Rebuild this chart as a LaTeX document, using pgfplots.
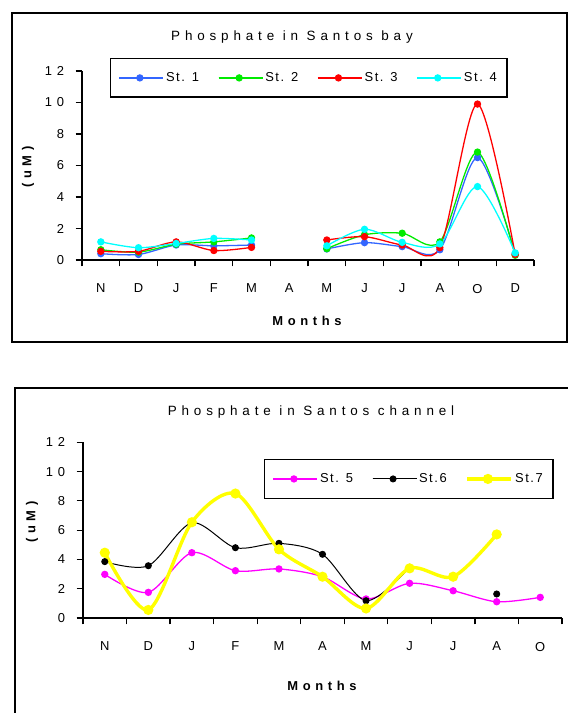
\documentclass[border=0pt]{standalone}
\usepackage{pgfplots}
\pgfplotsset{compat=1.18}
\usepackage{fontspec}
\setmainfont{Liberation Sans}
\newfontfamily\wide[LetterSpace=36]{Liberation Sans}
\newfontfamily\legfont[LetterSpace=12]{Liberation Sans}

\definecolor{st1}{RGB}{51,102,255}
\definecolor{st2}{RGB}{0,235,0}
\definecolor{st3}{RGB}{255,0,0}
\definecolor{st4}{RGB}{0,255,255}
\definecolor{st5}{RGB}{255,0,255}
\definecolor{st6}{RGB}{0,0,0}
\definecolor{st7}{RGB}{255,255,0}

\pgfplotsset{
  phos/.style={
    scale only axis,
    axis lines=left,
    axis line style={-, line width=1.2pt},
    every tick/.style={black, line width=1.2pt},
    tick align=outside,
    major tick length=6.5bp,
    ymin=0, ymax=12, ytick={0,2,...,12},
    xmin=0,
    x tick label as interval,
    unbounded coords=jump,
    /pgf/number format/assume math mode=true,
    tick label style={font=\fontsize{13}{13}\selectfont\wide},
    yticklabel style={xshift=-8bp},
    xticklabel style={yshift=-14bp},
    legend image code/.code={%
      \path (0bp,0bp) -- (44bp,0bp);
      \draw[mark repeat=2,mark phase=2,##1] plot coordinates {(0bp,0bp) (20.5bp,0bp) (41bp,0bp)};},
    legend cell align=left,
    legend style={draw=black, line width=1.4pt, inner xsep=8bp, inner ysep=12bp,
      font=\fontsize{13}{13}\selectfont\legfont,
      /tikz/every even column/.append style={column sep=17bp}},
  },
  st/.style={smooth, tension=0.5, mark=*, mark size=3bp, line width=1.3pt, color=#1, mark options={solid}},
}

\begin{document}
\begin{tikzpicture}[x=1bp,y=1bp]
\useasboundingbox (0,0) rectangle (568,713);

% ---------- Santos bay ----------
\draw[line width=2pt] (12,700) rectangle (567,371);
\node[font=\fontsize{13.5}{13.5}\selectfont\wide] at (292,676) {Phosphate in Santos bay};
\node[font=\fontsize{13}{13}\selectfont\wide\bfseries] at (307,392) {Months};
\node[font=\fontsize{13}{13}\selectfont\wide\bfseries, rotate=90] at (28,546) {(uM)};

\begin{axis}[phos,
  at={(82bp,453bp)}, anchor=south west,
  width=452bp, height=189bp,
  xmax=12, xtick={0,...,12},
  xticklabels={N,D,J,F,M,A,M,J,J,A,O,D},
  legend columns=4,
  legend style={at={(axis description cs:0.062,1.069)}, anchor=north west},
]
\addplot[st=st1] coordinates {(0.5,0.4) (1.5,0.35) (2.5,0.95) (3.5,0.9) (4.5,0.95) (5.5,nan)
  (6.5,0.7) (7.5,1.1) (8.5,0.85) (9.5,0.65) (10.5,6.5) (11.5,0.4)};
\addlegendentry{St. 1}
\addplot[st=st2] coordinates {(0.5,0.65) (1.5,0.5) (2.5,1.0) (3.5,1.15) (4.5,1.4) (5.5,nan)
  (6.5,0.72) (7.5,1.6) (8.5,1.7) (9.5,1.15) (10.5,6.85) (11.5,0.3)};
\addlegendentry{St. 2}
\addplot[st=st3] coordinates {(0.5,0.55) (1.5,0.55) (2.5,1.15) (3.5,0.6) (4.5,0.8) (5.5,nan)
  (6.5,1.27) (7.5,1.48) (8.5,0.95) (9.5,0.78) (10.5,9.9) (11.5,0.35)};
\addlegendentry{St. 3}
\addplot[st=st4] coordinates {(0.5,1.15) (1.5,0.78) (2.5,1.05) (3.5,1.37) (4.5,1.27) (5.5,nan)
  (6.5,0.9) (7.5,1.95) (8.5,1.12) (9.5,1.02) (10.5,4.66) (11.5,0.45)};
\addlegendentry{St. 4}
\end{axis}

% ---------- Santos channel ----------
\draw[line width=2pt] (15,325) rectangle (590,-20);
\node[font=\fontsize{13.5}{13.5}\selectfont\wide] at (311,301) {Phosphate in Santos channel};
\node[font=\fontsize{13}{13}\selectfont\wide\bfseries] at (322,27) {Months};
\node[font=\fontsize{13}{13}\selectfont\wide\bfseries, rotate=90] at (32,191) {(uM)};

\begin{axis}[phos,
  at={(83bp,95bp)}, anchor=south west,
  width=479bp, height=175.7bp,
  xmax=11, xtick={0,...,11},
  xticklabels={N,D,J,F,M,A,M,J,J,A,O},
  legend columns=3,
  legend style={at={(axis description cs:0.378,0.905)}, anchor=north west},
]
\addplot[st=st5, line width=1.3pt] coordinates {(0.5,2.98) (1.5,1.75) (2.5,4.46) (3.5,3.23) (4.5,3.35)
  (5.5,2.82) (6.5,1.30) (7.5,2.37) (8.5,1.86) (9.5,1.11) (10.5,1.41)};
\addlegendentry{St. 5}
\addplot[st=st6, line width=1pt] coordinates {(0.5,3.85) (1.5,3.57) (2.5,6.5) (3.5,4.8) (4.5,5.1)
  (5.5,4.35) (6.5,1.18) (7.5,3.46) (8.5,nan) (9.5,1.64)};
\addlegendentry{St.6}
\addplot[st=st7, line width=3.4pt, mark size=3.3bp] coordinates {(0.5,4.46) (1.5,0.55) (2.5,6.54) (3.5,8.5) (4.5,4.69)
  (5.5,2.82) (6.5,0.65) (7.5,3.39) (8.5,2.82) (9.5,5.71)};
\addlegendentry{St.7}
\end{axis}
\end{tikzpicture}
\end{document}
